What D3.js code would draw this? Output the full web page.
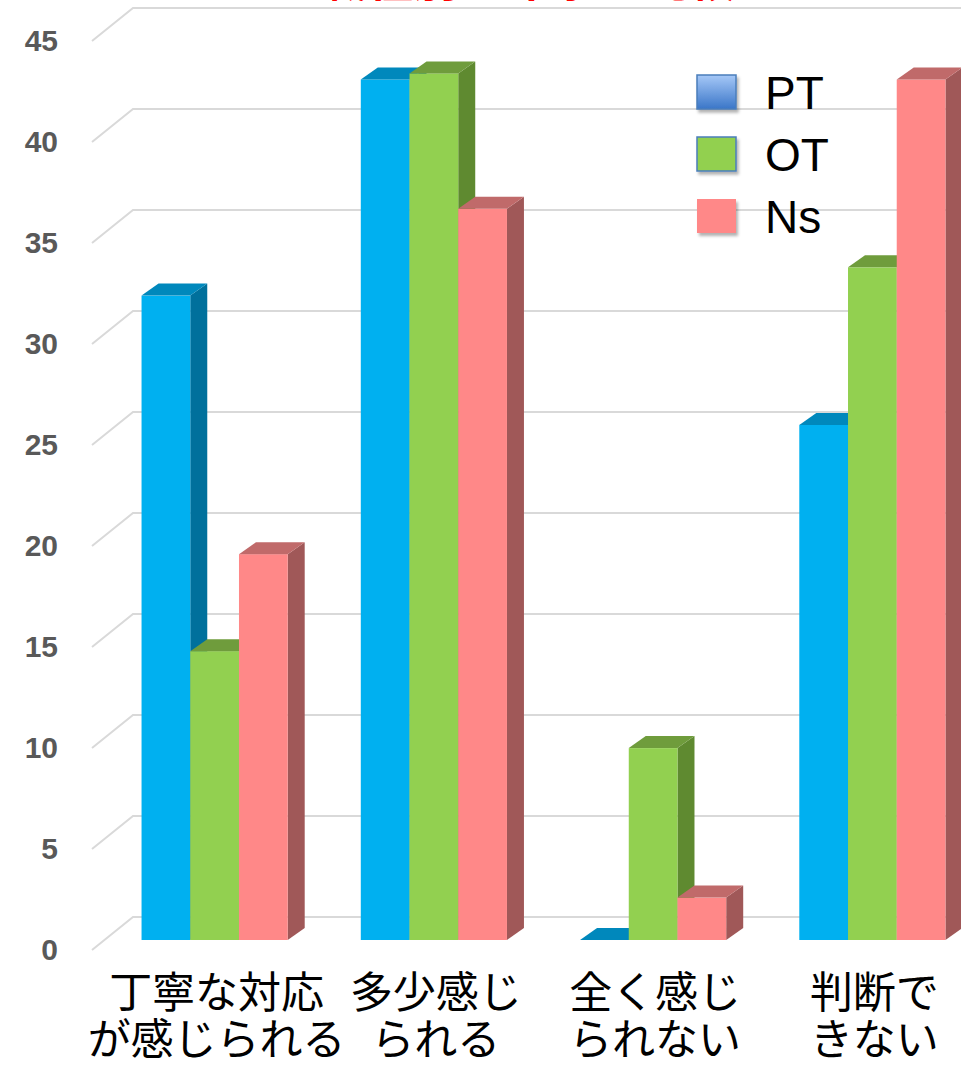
<!DOCTYPE html>
<html>
<head>
<meta charset="utf-8">
<script src="https://cdn.jsdelivr.net/npm/d3@7"></script>
<style>
  html, body { margin: 0; padding: 0; background: #ffffff; }
  svg { display: block; }
</style>
</head>
<body>
<svg id="chart" width="961" height="1065"></svg>
<script>
// ---- data ----
const categories = ["c1", "c2", "c3", "c4"];
const categoryLines = [
  ["丁寧な対応", "が感じられる"],
  ["多少感じ", "られる"],
  ["全く感じ", "られない"],
  ["判断で", "きない"]
];
const seriesNames = ["PT", "OT", "Ns"];
const ptValues = [31.9, 42.6, 0, 25.5];
const otValues = [14.3, 42.9, 9.5, 33.3];
const nsValues = [19.1, 36.2, 2.1, 42.6];
const yTickValues = [0, 5, 10, 15, 20, 25, 30, 35, 40, 45];
const titleText = "職種別の印象の比較";

// ---- styles ----
const faceColors = {
  PT: { front: "#00b0f0", side: "#00709c", top: "#0088bc" },
  OT: { front: "#92d050", side: "#5f8a30", top: "#6f9c3c" },
  Ns: { front: "#ff8888", side: "#a05858", top: "#c06a6a" }
};
const depthX = 17, depthY = -12;

const svg = d3.select("#chart");
const defs = svg.append("defs");

const grad = defs.append("linearGradient")
  .attr("id", "ptLegend").attr("x1", 0).attr("y1", 0).attr("x2", 0).attr("y2", 1);
grad.append("stop").attr("offset", "0%").attr("stop-color", "#a6c8f7");
grad.append("stop").attr("offset", "100%").attr("stop-color", "#3a76c8");

const shadow = defs.append("filter").attr("id", "legendShadow")
  .attr("x", "-20%").attr("y", "-20%").attr("width", "150%").attr("height", "150%");
shadow.append("feDropShadow").attr("dx", 2).attr("dy", 3).attr("stdDeviation", 1.5)
  .attr("flood-color", "#000").attr("flood-opacity", 0.3);

// ---- scales ----
const x = d3.scaleBand()
  .domain(categories)
  .range([105, 982])
  .paddingInner(1 / 3)
  .paddingOuter(1 / 6);

const xs = d3.scaleBand()
  .domain(seriesNames)
  .range([0, x.bandwidth()]);

const y = d3.scaleLinear().domain([0, 45]).range([940, 31]);
// tick-label plane sits slightly in front of the bars, back wall behind them
const yLabel = d3.scaleLinear().domain([0, 45]).range([950, 41]);
const wallShift = -33;

// ---- title (partly above the frame) ----
svg.append("text")
  .attr("x", 528).attr("y", -4)
  .attr("text-anchor", "middle")
  .attr("font-family", "'Noto Sans CJK JP', sans-serif")
  .attr("font-weight", "bold")
  .attr("font-size", 46)
  .attr("fill", "#ff0000")
  .text(titleText);

// ---- walls / gridlines ----
const grid = svg.append("g").attr("class", "grid");
grid.selectAll("path")
  .data(yTickValues)
  .join("path")
  .attr("d", v => {
    const yf = yLabel(v), yb = yLabel(v) + wallShift;
    return `M92,${yf}L133,${yb}L961,${yb}`;
  })
  .attr("fill", "none")
  .attr("stroke", "#d9d9d9")
  .attr("stroke-width", 2);

// ---- y axis labels ----
const yAxis = d3.axisLeft(yLabel).tickValues(yTickValues).tickSize(0).tickPadding(0);
const axisG = svg.append("g").attr("transform", "translate(58,0)").call(yAxis);
axisG.select(".domain").remove();
axisG.selectAll("text")
  .attr("font-family", "'Liberation Sans', Arial, sans-serif")
  .attr("font-weight", "bold")
  .attr("font-size", 30)
  .attr("fill", "#595959");

// ---- bars ----
const rows = categories.map((c, i) => ({
  cat: c,
  values: [
    { name: "PT", value: ptValues[i] },
    { name: "OT", value: otValues[i] },
    { name: "Ns", value: nsValues[i] }
  ]
}));

const groups = svg.append("g").selectAll("g.group")
  .data(rows)
  .join("g")
  .attr("class", "group");

groups.each(function (row) {
  const g = d3.select(this);
  row.values.forEach(d => {
    const x0 = x(row.cat) + xs(d.name);
    const w = xs.bandwidth();
    const yt = y(d.value);
    const yb = y(0);
    const col = faceColors[d.name];
    const bar = g.append("g").attr("class", "bar " + d.name);
    // side face
    bar.append("path")
      .attr("d", `M${x0 + w},${yt}L${x0 + w + depthX},${yt + depthY}L${x0 + w + depthX},${yb + depthY}L${x0 + w},${yb}Z`)
      .attr("fill", col.side);
    // front face
    bar.append("rect")
      .attr("x", x0).attr("y", yt)
      .attr("width", w).attr("height", yb - yt)
      .attr("fill", col.front);
    // top face
    bar.append("path")
      .attr("d", `M${x0},${yt}L${x0 + depthX},${yt + depthY}L${x0 + w + depthX},${yt + depthY}L${x0 + w},${yt}Z`)
      .attr("fill", col.top);
  });
});

// ---- category labels ----
const labels = svg.append("g").selectAll("text.cat")
  .data(categories)
  .join("text")
  .attr("class", "cat")
  .attr("text-anchor", "middle")
  .attr("font-family", "'Noto Sans CJK JP', sans-serif")
  .attr("font-size", 43)
  .attr("fill", "#000000");
labels.each(function (c, i) {
  const t = d3.select(this);
  const cx = x(c) + x.bandwidth() / 2 + 2;
  categoryLines[i].forEach((line, j) => {
    t.append("tspan")
      .attr("x", cx)
      .attr("y", 1008 + j * 47)
      .text(line);
  });
});

// ---- legend ----
const legendFill = { PT: "url(#ptLegend)", OT: "#92d050", Ns: "#ff8888" };
const legendStroke = { PT: "#4a7ebb", OT: "#4a7ebb", Ns: "none" };
const legend = svg.append("g").selectAll("g.legend")
  .data(seriesNames)
  .join("g")
  .attr("class", "legend")
  .attr("transform", (d, i) => `translate(697,${75 + i * 62})`);
legend.append("rect")
  .attr("width", 39).attr("height", 34)
  .attr("fill", d => legendFill[d])
  .attr("stroke", d => legendStroke[d])
  .attr("stroke-width", 1.5)
  .attr("filter", "url(#legendShadow)");
legend.append("text")
  .attr("x", 68).attr("y", 34)
  .attr("font-family", "'Liberation Sans', Arial, sans-serif")
  .attr("font-size", 46)
  .attr("fill", "#000000")
  .text(d => d);
</script>
</body>
</html>
